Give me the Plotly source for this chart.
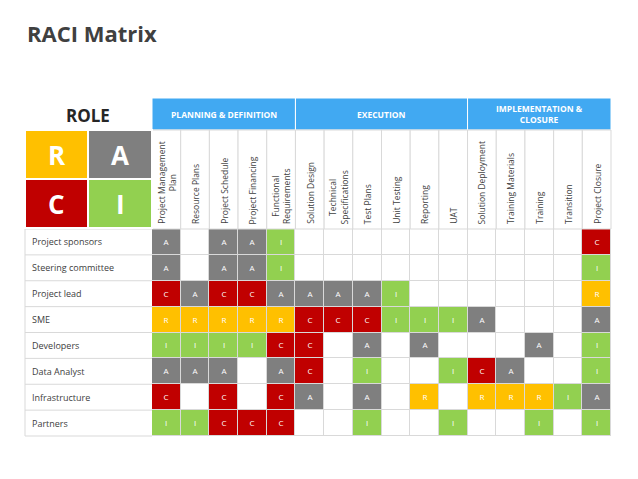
import plotly.graph_objects as go

roles = ["Project sponsors","Steering committee","Project lead","SME","Developers","Data Analyst","Infrastructure","Partners"]
tasks = ["Project Management<br>Plan","Resource Plans","Project Schedule","Project Financing","Functional<br>Requirements",
         "Solution Design","Technical<br>Specifications","Test Plans","Unit Testing","Reporting","UAT",
         "Solution Deployment","Training Materials","Training","Transition","Project Closure"]
phases = [("PLANNING & DEFINITION",0,5),("EXECUTION",5,11),("IMPLEMENTATION &<br>CLOSURE",11,16)]
matrix = [
 "A_AAI__________C",
 "A_AAI__________I",
 "CACCAAAAI______R",
 "RRRRRCCCIIIA___A",
 "IIIICC_A_A___A_I",
 "AAA_AC_I__ICA__I",
 "C_C_CA_A_R_RRRIA",
 "IICCC__I__I__I_I",
]
colors = {"R":"#ffc000","A":"#7f7f7f","C":"#c00000","I":"#92d050","_":"#ffffff"}
codes = {"_":0,"R":1,"A":2,"C":3,"I":4}

X0, X1 = 152, 611
Y0, Y1 = 229, 436
cw = (X1-X0)/len(tasks)
rh = (Y1-Y0)/len(roles)
xc = [X0+cw*(i+0.5) for i in range(len(tasks))]
yc = [Y0+rh*(j+0.5) for j in range(len(roles))]
z = [[codes[c] for c in row] for row in matrix]
txt = [[("" if c=="_" else c) for c in row] for row in matrix]
cs = []
order = ["_","R","A","C","I"]
for k,key in enumerate(order):
    cs += [[k/5, colors[key]], [(k+1)/5, colors[key]]]

fig = go.Figure(go.Heatmap(x=xc, y=yc, z=z, text=txt, texttemplate="%{text}",
    textfont=dict(color="white", size=8, family="Open Sans"), colorscale=cs, zmin=-0.5, zmax=4.5,
    showscale=False, xgap=1, ygap=1, hoverinfo="skip"))

shapes = []
ann = []
grid = "#d9d9d9"
shapes.append(dict(type="rect", x0=X0, x1=X1, y0=Y0, y1=Y1, fillcolor=grid, line_width=0, layer="below"))
for j, r in enumerate(roles):
    shapes.append(dict(type="line", x0=25, x1=X0, y0=Y0+rh*(j+1), y1=Y0+rh*(j+1), line=dict(color=grid, width=1)))
    ann.append(dict(x=30, y=yc[j], text=r, showarrow=False, xanchor="left", font=dict(size=9, color="#404040")))
shapes.append(dict(type="line", x0=25, x1=25, y0=Y0, y1=Y1, line=dict(color=grid, width=1)))
shapes.append(dict(type="line", x0=25, x1=X0, y0=Y0, y1=Y0, line=dict(color=grid, width=1)))
HY0, HY1 = 98, 130
for name, a, b in phases:
    shapes.append(dict(type="rect", x0=X0+cw*a, x1=X0+cw*b, y0=HY0, y1=HY1, fillcolor="#41a9f2", line=dict(color="white", width=1)))
    ann.append(dict(x=X0+cw*(a+b)/2, y=(HY0+HY1)/2, text="<b>"+name+"</b>", showarrow=False, font=dict(size=8.5, color="white")))
for i, t in enumerate(tasks):
    shapes.append(dict(type="rect", x0=X0+cw*i, x1=X0+cw*(i+1), y0=HY1, y1=Y0, fillcolor="white", line=dict(color=grid, width=1)))
    ann.append(dict(x=xc[i], y=Y0-3, text=t, showarrow=False, textangle=-90, yanchor="bottom", font=dict(size=8.5, color="#404040")))
sq = [("R",25,88,130,179,"#ffc000"),("A",88,152,130,179,"#7f7f7f"),("C",25,88,179,228,"#c00000"),("I",88,152,179,228,"#92d050")]
for l, a, b, c, d, col in sq:
    shapes.append(dict(type="rect", x0=a, x1=b, y0=c, y1=d, fillcolor=col, line=dict(color="white", width=2)))
    ann.append(dict(x=(a+b)/2, y=(c+d)/2, text="<b>"+l+"</b>", showarrow=False, font=dict(size=26, color="white")))
ann.append(dict(x=88, y=115, text="<b>ROLE</b>", showarrow=False, font=dict(size=17, color="#262626")))
ann.append(dict(x=25, y=33, text="<b>RACI Matrix</b>", showarrow=False, xanchor="left", font=dict(size=22, color="#404040")))

fig.update_layout(width=638, height=479, margin=dict(l=0,r=0,t=0,b=0), plot_bgcolor="white", paper_bgcolor="white",
    xaxis=dict(range=[8,646], visible=False), yaxis=dict(range=[487,8], visible=False),
    shapes=shapes, annotations=ann, font=dict(family="Open Sans"))
fig.write_html("out.html")
